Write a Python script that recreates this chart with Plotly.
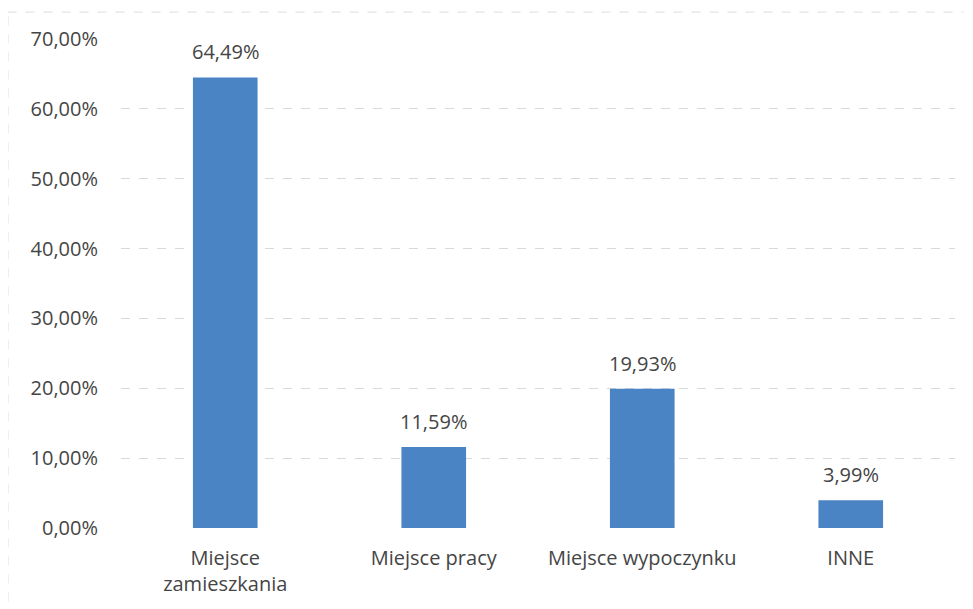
import plotly.graph_objects as go

categories = ["Miejsce<br>zamieszkania", "Miejsce pracy", "Miejsce wypoczynku", "INNE"]
values = [64.49, 11.59, 19.93, 3.99]
tick_vals = [0, 10, 20, 30, 40, 50, 60, 70]
tick_text = ["0,00%", "10,00%", "20,00%", "30,00%", "40,00%", "50,00%", "60,00%", "70,00%"]
value_labels = [f"{v:.2f}%".replace(".", ",") for v in values]

font_family = "Open Sans, Lato, sans-serif"
text_color = "#454545"
fsize = 20

fig = go.Figure(
    go.Bar(
        x=categories,
        y=values,
        marker=dict(color="#4a84c4", line=dict(width=0)),
        width=0.31,
    )
)

annotations = [
    dict(x=c, y=v, text=t, xref="x", yref="y", showarrow=False, yanchor="bottom",
         yshift=10, font=dict(family=font_family, size=fsize, color=text_color))
    for c, v, t in zip(categories, values, value_labels)
]

fig.update_layout(
    width=965,
    height=601,
    paper_bgcolor="white",
    plot_bgcolor="white",
    margin=dict(l=113, r=18, t=31, b=81),
    showlegend=False,
    font=dict(family=font_family, size=fsize, color=text_color),
    annotations=annotations,
    xaxis=dict(
        showgrid=False,
        showline=False,
        ticks="",
        ticklabelstandoff=16,
        tickfont=dict(family=font_family, size=fsize, color=text_color),
    ),
    yaxis=dict(
        range=[0, 70],
        tickvals=tick_vals,
        ticktext=tick_text,
        showgrid=True,
        gridcolor="#d9d9d9",
        griddash="dash",
        gridwidth=1,
        zeroline=False,
        showline=False,
        ticks="",
        ticklabelstandoff=22,
        tickfont=dict(family=font_family, size=fsize, color=text_color),
    ),
    shapes=[
        dict(type="line", xref="paper", yref="paper", x0=-0.136, x1=1.01, y0=1.055, y1=1.055,
             line=dict(color="#dcdcdc", width=1, dash="dash")),
        dict(type="line", xref="paper", yref="paper", x0=-0.1355, x1=-0.1355, y0=-0.15, y1=1.055,
             line=dict(color="#dcdcdc", width=1, dash="dash")),
    ],
)

fig.write_html("out.html")
